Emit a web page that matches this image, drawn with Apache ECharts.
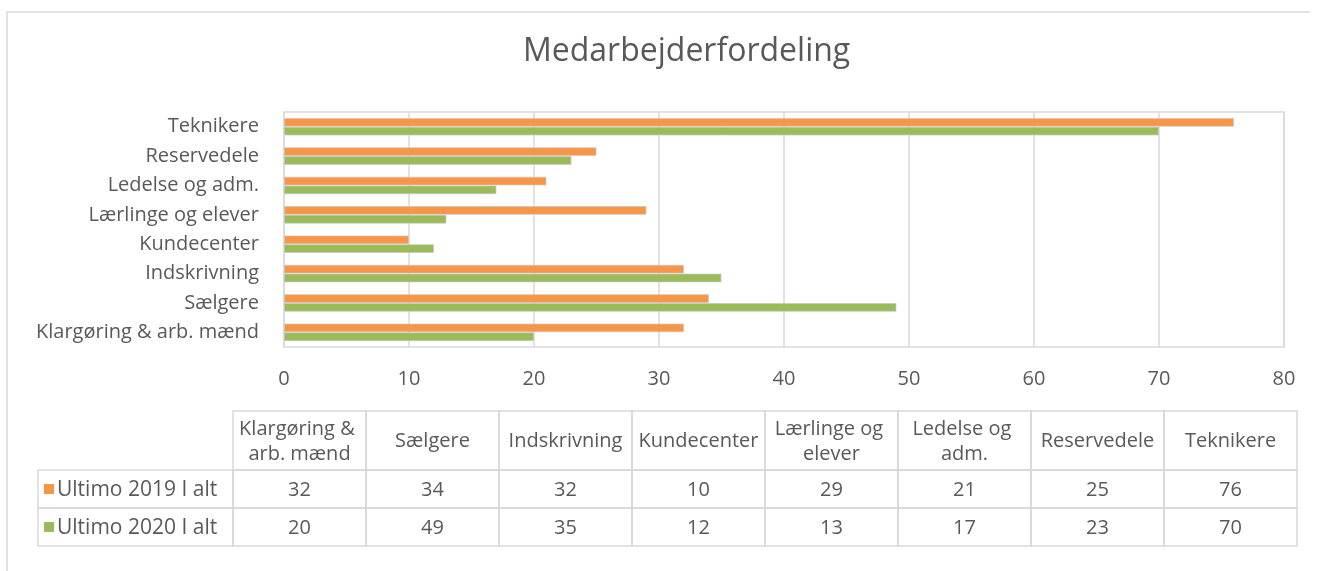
<!DOCTYPE html>
<html>
<head>
<meta charset="utf-8">
<script src="https://cdn.jsdelivr.net/npm/echarts@6/dist/echarts.min.js"></script>
<style>
html,body{margin:0;padding:0;background:#fff;}
#chart{width:1324px;height:571px;}
</style>
</head>
<body>
<div id="chart"></div>
<script>
var categories = ['Klargøring & arb. mænd','Sælgere','Indskrivning','Kundecenter','Lærlinge og elever','Ledelse og adm.','Reservedele','Teknikere'];
var ultimo2019 = [32, 34, 32, 10, 29, 21, 25, 76];
var ultimo2020 = [20, 49, 35, 12, 13, 17, 23, 70];
var seriesNames = ['Ultimo 2019 I alt', 'Ultimo 2020 I alt'];
var colors = ['#F79646', '#9BBB59'];

var textColor = '#595959';
var lineColor = '#d9d9d9';
var font = '"Open Sans", "Noto Sans", sans-serif';

// data table under the chart
var tbl = {left: 38, colLeft: 233, colW: 133, top: 411, headH: 59, rowH: 38};

function buildTable(){
    var els = [];
    var rowsData = [ultimo2019, ultimo2020];
    // header cells
    categories.forEach(function(c, i){
        var x = tbl.colLeft + tbl.colW * i;
        els.push({type:'rect', shape:{x:x, y:tbl.top, width:tbl.colW, height:tbl.headH},
            style:{fill:'none', stroke:lineColor, lineWidth:1.5}});
        els.push({type:'text', style:{x:x + tbl.colW/2, y:tbl.top + tbl.headH/2 + 1, text:c,
            width:tbl.colW - 4, overflow:'break', align:'center', verticalAlign:'middle',
            fill:textColor, font:'20px ' + font, lineHeight:25}});
    });
    rowsData.forEach(function(vals, r){
        var y = tbl.top + tbl.headH + tbl.rowH * r;
        els.push({type:'rect', shape:{x:tbl.left, y:y, width:tbl.colLeft - tbl.left, height:tbl.rowH},
            style:{fill:'none', stroke:lineColor, lineWidth:1.5}});
        els.push({type:'rect', shape:{x:tbl.left + 6, y:y + tbl.rowH/2 - 5, width:10, height:10},
            style:{fill:colors[r]}});
        els.push({type:'text', style:{x:tbl.left + 19, y:y + tbl.rowH/2 + 1, text:seriesNames[r],
            align:'left', verticalAlign:'middle', fill:textColor, font:'21px ' + font}});
        vals.forEach(function(v, i){
            var x = tbl.colLeft + tbl.colW * i;
            els.push({type:'rect', shape:{x:x, y:y, width:tbl.colW, height:tbl.rowH},
                style:{fill:'none', stroke:lineColor, lineWidth:1.5}});
            els.push({type:'text', style:{x:x + tbl.colW/2, y:y + tbl.rowH/2 + 1, text:String(v),
                align:'center', verticalAlign:'middle', fill:textColor, font:'20px ' + font}});
        });
    });
    // outer frame lines of the whole chart
    els.push({type:'polyline', shape:{points:[[7,575],[7,12],[1310,12]]},
        style:{fill:'none', stroke:lineColor, lineWidth:1.5}});
    return els;
}

var myChart = echarts.init(document.getElementById('chart'));
var option = {
    animation:false,
    title:{
        text:'Medarbejderfordeling',
        left:518,
        top:31,
        textStyle:{color:textColor, fontSize:32, fontWeight:'normal', fontFamily:font}
    },
    grid:{
        left:284, top:112, width:1000, height:235,
        show:true, borderColor:lineColor, borderWidth:1.5
    },
    xAxis:{
        type:'value',
        min:0, max:80, interval:10,
        axisLine:{show:false},
        axisTick:{show:false},
        splitLine:{lineStyle:{color:lineColor, width:1.5}},
        axisLabel:{color:textColor, fontSize:20, fontFamily:font, margin:22}
    },
    yAxis:{
        type:'category',
        data:categories,
        axisLine:{show:false},
        axisTick:{show:false},
        axisLabel:{color:textColor, fontSize:20, fontFamily:font, margin:25}
    },
    series:[
        {
            name:seriesNames[0],
            type:'bar',
            barGap:0,
            barCategoryGap:'40%',
            itemStyle:{color:colors[0], borderColor:'rgba(200,200,200,0.7)', borderWidth:1},
            data:ultimo2019
        },
        {
            name:seriesNames[1],
            type:'bar',
            barGap:0,
            barCategoryGap:'40%',
            itemStyle:{color:colors[1], borderColor:'rgba(200,200,200,0.7)', borderWidth:1},
            data:ultimo2020
        }
    ],
    graphic:buildTable()
};
myChart.setOption(option);
</script>
</body>
</html>
